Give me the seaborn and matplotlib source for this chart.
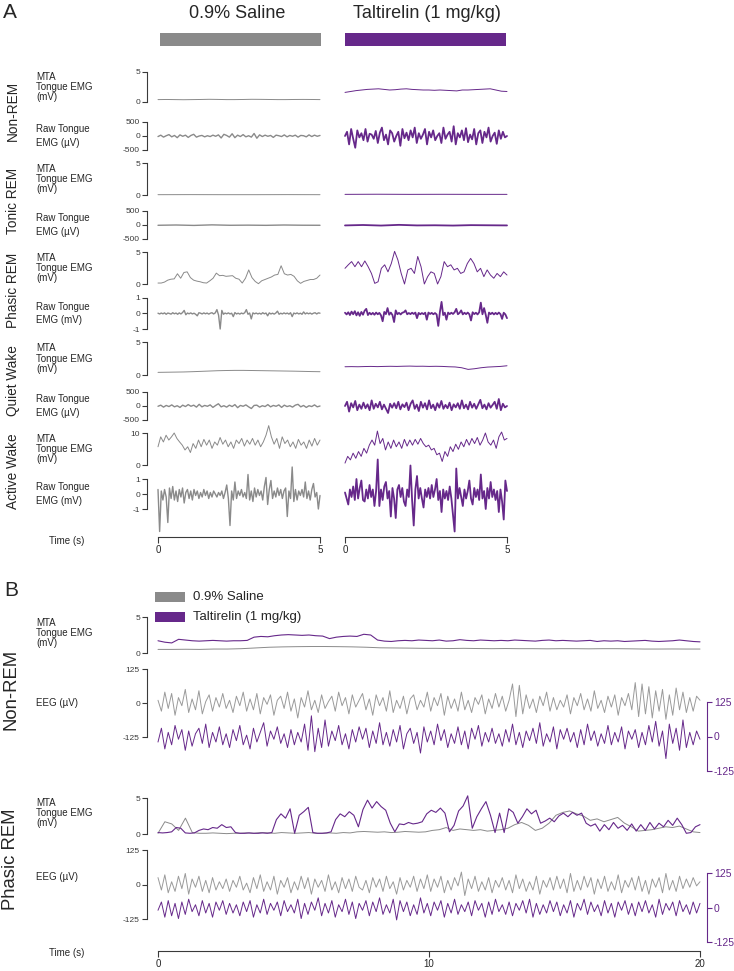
import numpy as np
import matplotlib
matplotlib.use("Agg")
import matplotlib.pyplot as plt
from matplotlib.patches import Rectangle
import seaborn as sns

# colours
GREY = "#8a8a8a"
GREY_EEG = "#9a9a9a"
PURPLE = "#66288a"
AXC = "#3a3a3a"

conditions = ["0.9% Saline", "Taltirelin (1 mg/kg)"]
states_a = ["Non-REM", "Tonic REM", "Phasic REM", "Quiet Wake", "Active Wake"]
states_b = ["Non-REM", "Phasic REM"]
mta_label = "MTA\nTongue EMG\n(mV)"
raw_labels = ["Raw Tongue\nEMG (µV)", "Raw Tongue\nEMG (µV)", "Raw Tongue\nEMG (mV)",
              "Raw Tongue\nEMG (µV)", "Raw Tongue\nEMG (mV)"]
mta_ticks = [[0, 5], [0, 5], [0, 5], [0, 5], [0, 10]]
raw_ticks = [[-500, 0, 500], [-500, 0, 500], [-1, 0, 1], [-500, 0, 500], [-1, 0, 1]]
time_ticks_a = [0, 5]
time_ticks_b = [0, 10, 20]
eeg_ticks = [-125, 0, 125]
mta_b_ticks = [0, 5]

# ---------------- panel A : 5 s excerpts ----------------
# Non-REM
sal_nrem_mta = [0.4, 0.42, 0.4, 0.38, 0.4, 0.42, 0.45, 0.43, 0.4, 0.4,
                0.42, 0.45, 0.44, 0.42, 0.4, 0.4, 0.42, 0.43, 0.42, 0.4]
tal_nrem_mta = [1.6, 1.75, 1.9, 2.0, 2.1, 2.15, 2.2, 2.1, 2.0, 2.05, 2.15, 2.2, 2.1, 2.05, 2.0,
                2.0, 1.95, 2.0, 1.95, 1.9, 1.85, 2.0, 2.0, 2.05, 2.1, 2.15, 2.2, 2.0, 1.8, 1.75]
sal_nrem_raw = [-20, 30, -40, 10, 50, -30, 20, -60, 40, -10, 30, -50, 20, 60, -40, 0, 20, -30, 10, -20,
                30, -10, 40, -70, 60, 20, -40, 80, -60, 30, -20, 50, -30, 10, -40, 90, -80, 40, -20, 30,
                -10, 20, -50, 30, 10, -20, 40, -30, 20, -10, 30, -40, 20, 10, -30, 40, -20, 30, -10, 20]
tal_nrem_raw = [0, 150, -300, 250, -100, -420, 200, -50, 100, -150, 250, -200, 80, 50, -100, 180, -250, 120, 300, -150,
                50, -300, 200, 100, -200, 0, 150, -350, 250, -80, 120, -150, 200, -50, 300, -250, 100, -100, 50, 250,
                -300, 150, -50, 200, -150, 0, 100, -250, 300, -100, 50, 150, -200, 350, -300, 100, -50, 200, -150, 280,
                -220, 50, -120, 250, -300, 100, 200, -250, 150, -50, 300, -200, 0, 120, -280, 200, -100, 150, -50, 0]
# Tonic REM
sal_tonic_mta = [0.05, 0.06, 0.05, 0.05, 0.06, 0.05]
tal_tonic_mta = [0.1, 0.12, 0.1, 0.11, 0.1, 0.1]
sal_tonic_raw = [-10, 0, -15, 5, -10, -5, -12, 0, -8, -10]
tal_tonic_raw = [-15, 0, -20, 5, -15, -10, -20, -5, -10, -15]
# Phasic REM
sal_phasic_mta = [0.15, 0.15, 0.3, 0.6, 0.75, 0.8, 1.6, 0.9, 1.8, 1.9, 1.0, 0.6, 0.45, 0.35, 0.2, 0.15, 0.5,
                  0.9, 1.7, 1.3, 1.35, 1.2, 1.25, 1.3, 0.9, 0.75, 0.15, 0.9, 2.2, 1.0, 0.4, 0.05, 0.5, 0.7,
                  0.9, 1.1, 1.4, 1.5, 2.85, 1.6, 1.4, 1.5, 1.2, 0.5, 0.1, 0.4, 0.55, 0.7, 0.7, 0.9, 1.4]
tal_phasic_mta = [2.45, 3.0, 3.5, 2.7, 3.5, 2.7, 3.6, 2.7, 1.65, 0.1, 0.35, 2.45, 3.0, 1.9, 3.2, 5.1, 3.75,
                  1.65, 0.0, 2.2, 2.45, 1.65, 4.3, 2.7, 0.0, 1.15, 1.9, 1.65, 0.0, 1.15, 3.5, 2.7, 3.0, 2.2,
                  2.45, 1.65, 1.9, 3.2, 4.0, 3.2, 1.9, 2.45, 1.15, 2.2, 1.4, 0.9, 1.65, 1.15, 1.9, 1.4]
sal_phasic_raw = [0.02, -0.03, 0.03, -0.02, 0.04, -0.05, 0.03, 0.0, -0.04, 0.05,
                  -0.02, 0.03, -0.05, 0.04, -0.03, 0.06, 0.2, -0.08, 0.03, -0.02,
                  0.04, -0.03, 0.02, -0.05, -0.15, 0.05, 0.02, -0.03, 0.04, -0.02,
                  0.03, -0.04, 0.02, 0.05, -0.03, 0.04, 0.25, -0.1, -1.0, 0.2,
                  -0.05, 0.03, -0.02, 0.04, -0.03, 0.02, -0.2, 0.06, -0.03, 0.02,
                  -0.04, 0.03, -0.02, 0.05, 0.25, -0.05, 0.03, -0.35, 0.04, -0.02,
                  0.03, -0.03, 0.02, -0.04, 0.05, -0.02, 0.03, -0.15, 0.04, -0.03,
                  0.02, -0.04, 0.03, 0.15, -0.05, 0.02, -0.03, 0.04, -0.02, 0.03,
                  -0.04, 0.05, -0.2, 0.03, -0.02, 0.04, -0.03, 0.02, -0.05, 0.1,
                  -0.03, 0.04, -0.02, 0.03, -0.04, 0.02, 0.05, -0.03, 0.04, 0.02]
tal_phasic_raw = [0.05, -0.06, 0.08, -0.1, 0.12, -0.05, 0.15, -0.12, 0.08, -0.15,
                  0.1, -0.08, 0.18, 0.3, -0.1, 0.05, -0.06, 0.04, -0.08, 0.06,
                  -0.05, 0.04, -0.12, -0.5, 0.1, -0.04, 0.35, -0.08, 0.06, -0.1,
                  -0.55, 0.2, -0.05, 0.04, -0.06, 0.05, 0.08, 0.2, -0.05, 0.03,
                  -0.04, 0.05, -0.03, 0.06, -0.3, 0.04, -0.05, 0.03, -0.04, 0.05,
                  -0.4, 0.06, -0.03, 0.04, -0.05, 0.03, -0.06, -0.8, 0.1, 0.75,
                  -0.1, 0.05, -0.4, 0.06, -0.04, 0.05, -0.03, 0.08, 0.3, -0.05,
                  0.04, 0.2, -0.06, 0.05, -0.04, 0.06, -0.05, -0.45, 0.08, -0.04,
                  0.05, -0.06, 0.08, 0.7, -0.05, 0.35, -0.08, -0.6, 0.06, -0.04,
                  0.05, -0.06, 0.04, -0.05, 0.06, -0.04, -0.35, 0.05, -0.06, -0.3]
# Quiet Wake
sal_quiet_mta = [0.4, 0.42, 0.44, 0.46, 0.5, 0.55, 0.6, 0.65, 0.68, 0.7,
                 0.7, 0.68, 0.66, 0.64, 0.62, 0.6, 0.58, 0.55, 0.52, 0.5]
tal_quiet_mta = [1.25, 1.27, 1.25, 1.28, 1.3, 1.27, 1.3, 1.32, 1.3, 1.33, 1.35, 1.32, 1.33,
                 1.3, 1.32, 1.3, 1.25, 1.22, 1.1, 0.85, 0.95, 1.1, 1.2, 1.25, 1.3, 1.4]
sal_quiet_raw = [-10, 30, -40, 20, -20, 40, -30, 10, -50, 30, -20, 50, -10, 30, -40, 60, -30, 20, -10, 40,
                 -50, 20, 80, -30, 10, -40, 30, -20, 50, -60, 20, -10, 40, -30, -90, 20, 30, -40, 10, -20,
                 50, -30, 20, -10, 40, -50, 30, -20, 10, -40, 30, 60, -30, 20, -50, 10, -20, 40, -30, 0]
tal_quiet_raw = [0, 150, -200, 100, -50, 180, -150, 50, -100, 120, -80, 60, -150, 200, -100, 80, -50, 150, -120, 50,
                 -100, -250, 80, -60, 100, -80, 150, -120, 60, -40, 120, -150, 80, 200, -100, 50, -180, 150, -60, 100,
                 -120, 200, -80, 50, -150, 100, -60, 180, -100, 40, -80, 120, -150, 60, -50, 100, -100, 200, -80, 50,
                 -120, 150, -60, 80, -100, 60, 220, -80, 50, -120, 100, -60, 40, 150, -100, 250, -150, 80, -50, 0]
# Active Wake
sal_active_mta = [5.7, 8.8, 7.2, 9.3, 7.8, 8.8, 10.0, 8.3, 7.2, 6.2, 4.7, 5.7, 3.9, 6.7, 5.2, 7.8, 5.7, 8.0,
                  6.2, 7.8, 5.2, 7.2, 6.2, 8.6, 6.5, 7.8, 5.7, 7.2, 5.2, 7.8, 6.7, 8.3, 5.9, 7.8, 6.5, 8.3,
                  6.2, 7.8, 5.7, 7.2, 9.3, 12.3, 8.8, 6.5, 8.3, 5.2, 8.8, 6.7, 7.8, 5.7, 7.2, 5.2, 8.0, 6.2,
                  7.2, 5.2, 7.8, 5.9, 8.3, 6.2, 7.8]
tal_active_mta = [0.6, 2.7, 1.6, 3.7, 2.1, 4.2, 2.7, 5.2, 3.7, 6.2, 7.8, 6.2, 10.6, 6.7, 8.3, 4.7, 7.2, 5.2,
                  7.8, 5.7, 7.2, 5.2, 8.0, 5.9, 7.8, 6.2, 8.0, 6.5, 8.3, 6.7, 5.7, 6.2, 4.7, 5.2, 3.2, 3.7,
                  1.1, 4.2, 2.7, 5.7, 4.2, 6.5, 4.9, 7.2, 5.7, 8.0, 6.2, 8.3, 6.7, 8.6, 6.2, 7.8, 10.0, 7.2,
                  6.2, 7.8, 5.2, 8.8, 10.3, 7.8, 8.3]
sal_active_raw = [0.3, -2.5, 0.2, -0.4, 0.3, -0.2, -1.9, 0.4, -0.3, 0.5,
                  -0.4, 0.2, -0.5, 0.3, -0.2, 0.4, -0.6, 0.1, 0.3, -0.3,
                  0.2, -0.4, 0.3, -0.1, 0.2, -0.3, 0.1, -0.2, 0.3, -0.1,
                  0.2, -0.3, 0.1, -0.2, 0.2, 0.0, -0.2, 0.1, -0.1, 0.2,
                  -0.3, 0.1, 0.6, -0.3, -2.1, 0.2, -0.4, 0.8, -0.3, 0.2,
                  -0.1, 0.3, -0.2, 0.1, -0.3, 1.3, -0.4, 0.2, -0.5, 0.4,
                  -0.2, 0.3, -0.1, 0.2, -0.4, 0.5, 1.1, -0.7, 0.3, 0.9,
                  -0.3, 0.2, -0.2, 0.4, -0.1, 0.3, -0.3, 0.2, 0.4, -1.5,
                  0.2, -0.3, 1.8, -0.5, 0.3, -0.4, 0.2, -0.1, 0.3, -0.2,
                  0.8, -0.3, 0.2, -0.4, 0.3, 0.7, -0.2, 0.1, -1.0, -0.1]
tal_active_raw = [0.1, -0.3, -0.7, 0.3, -0.2, 0.5, -0.4, 1.0, -0.3, 0.4,
                  0.9, -0.4, -0.5, 0.3, -0.3, 0.6, -0.2, 0.3, -0.8, 0.2,
                  2.3, -0.8, 0.3, -0.4, 0.5, 0.8, -0.3, 0.2, -1.5, 0.4,
                  -0.3, -1.6, 0.3, 0.6, -0.2, 0.4, -0.5, -0.8, 0.3, -0.2,
                  1.9, -0.4, -2.1, 0.3, 1.2, -0.3, 0.4, -0.3, -0.9, 0.3,
                  -0.2, 0.4, -0.3, 0.6, -0.2, 0.3, 1.0, -0.4, 0.2, -1.2,
                  0.3, -0.3, 0.2, -0.4, 0.5, -0.3, -1.4, -2.5, 1.7, -0.3,
                  0.4, -0.2, -0.8, 0.3, -0.3, 0.2, 0.9, -0.3, -0.7, 0.4,
                  -0.2, 0.3, -0.4, 1.3, -0.3, 0.2, -1.0, 0.4, -0.3, 0.8,
                  -0.2, 0.3, -0.4, 0.2, -1.2, 0.3, -0.5, -1.7, 0.9, 0.2]

mta_a = [[sal_nrem_mta, sal_tonic_mta, sal_phasic_mta, sal_quiet_mta, sal_active_mta],
         [tal_nrem_mta, tal_tonic_mta, tal_phasic_mta, tal_quiet_mta, tal_active_mta]]
raw_a = [[sal_nrem_raw, sal_tonic_raw, sal_phasic_raw, sal_quiet_raw, sal_active_raw],
         [tal_nrem_raw, tal_tonic_raw, tal_phasic_raw, tal_quiet_raw, tal_active_raw]]

# ---------------- panel B : 20 s excerpts ----------------
sal_nrem_mta_b = [0.5, 0.5, 0.52, 0.5, 0.55, 0.55, 0.6, 0.7, 0.8, 0.85, 0.88, 0.9, 0.9, 0.88, 0.85, 0.8,
                  0.72, 0.7, 0.68, 0.65, 0.65, 0.62, 0.65, 0.62, 0.6, 0.62, 0.6, 0.6, 0.58, 0.6, 0.6, 0.58,
                  0.6, 0.6, 0.58, 0.55, 0.55, 0.56, 0.55, 0.55]
tal_nrem_mta_b = [1.7, 1.5, 1.4, 1.9, 1.8, 1.7, 1.65, 1.7, 1.75, 1.7,
                  1.65, 1.7, 1.7, 1.75, 2.2, 2.3, 2.25, 2.4, 2.5, 2.55,
                  2.5, 2.45, 2.5, 2.4, 2.35, 2.0, 2.2, 2.3, 2.35, 2.3,
                  2.6, 2.5, 1.8, 1.65, 1.6, 1.7, 1.75, 1.7, 1.8, 1.75,
                  1.7, 1.8, 1.65, 1.7, 1.85, 1.75, 1.7, 1.8, 1.75, 1.7,
                  1.75, 1.7, 1.8, 1.75, 1.7, 1.65, 1.75, 1.8, 1.7, 1.75,
                  1.7, 1.65, 1.7, 1.75, 1.6, 1.7, 1.65, 1.7, 1.6, 1.65,
                  1.7, 1.75, 1.65, 1.6, 1.65, 1.7, 1.8, 1.7, 1.6, 1.55]
sal_nrem_eeg = [10, -30, 40, -20, 35, -45, 20, -10, 50, -35, 15, -25, 45, -40, 5, 30, -30, 20, -15, 35,
                -20, 10, -35, 25, -10, 40, -30, 15, -25, 35, -40, 20, -5, 30, -45, 10, 25, -20, 40, -30,
                15, -55, 20, -15, 45, -25, 10, -35, 30, -20, 5, 25, -30, 40, -10, 20, -40, 30, -15, 10,
                35, -25, 15, -45, 30, -10, 20, -30, 45, -35, 10, -20, 25, -40, 15, 30, -25, 10, -15, 40,
                -30, 20, -10, 35, -45, 25, -20, 15, -30, 40, -25, 10, -35, 20, -5, 30, -40, 15, -20, 35,
                -15, 25, -30, 10, 70, -50, 65, -40, 30, -20, 15, -35, 25, -10, 40, -30, 20, -25, 10, -15,
                30, -40, 20, -10, 35, -25, 15, -30, 45, -20, 10, -35, 25, -15, 30, -45, 20, -10, 35, -25,
                75, -50, 70, -40, 60, -55, 45, -30, 50, -60, 30, -45, 55, -25, 40, -35, 20, -30, 25, 10]
tal_nrem_eeg = [-20, 30, -45, 15, -30, 40, -10, 25, -50, 20, -35, 10, 30, -25, 45, -40, 15, -20, 35, -30,
                10, -40, 25, -15, 40, -30, 5, -45, 30, -20, 15, 50, -35, 20, -10, 35, -25, 10, -40, 25,
                -30, 15, -20, 45, -50, 75, -55, 30, -40, 60, -35, 20, -15, 40, -30, 10, -45, 25, -20, 35,
                -10, 30, -40, 20, -25, 50, -30, 15, -35, 25, -20, 40, -45, 10, 30, -25, 15, -60, 35, -20,
                20, -30, 45, -15, 25, -40, 10, -25, 35, -30, 20, -45, 30, -10, 40, -35, 15, -20, 30, -25,
                10, -35, 25, -20, 45, -30, 15, -40, 20, -15, 30, -25, 50, -35, 10, -20, 35, -45, 25, -10,
                30, -20, 15, -40, 25, -30, 45, -15, 20, -35, 10, -25, 40, -30, 15, -20, 35, -45, 20, -10,
                25, -40, 15, -30, 40, -20, 55, -35, 20, -80, 45, -25, 30, -50, 60, -40, 15, -30, 20, -10]
sal_phasic_mta_b = [0.1, 1.7, 1.4, 0.5, 2.2, 0.2, 0.1, 0.1, 0.15, 0.1, 0.05, 0.1, 0.1, 0.15, 0.1, 0.2,
                    0.15, 0.1, 0.2, 0.15, 0.1, 0.15, 0.2, 0.1, 0.1, 0.15, 0.1, 0.2, 0.15, 0.3, 0.35, 0.3,
                    0.25, 0.3, 0.2, 0.25, 0.35, 0.3, 0.25, 0.3, 0.5, 0.6, 0.9, 0.5, 0.7, 0.6, 0.5, 0.6,
                    0.4, 0.5, 0.6, 0.8, 1.3, 1.6, 1.2, 0.5, 0.8, 1.5, 2.6, 3.0, 3.2, 2.8, 2.5, 1.9,
                    2.1, 1.7, 2.0, 2.3, 1.5, 1.0, 0.4, 0.5, 0.6, 0.8, 1.0, 0.9, 1.1, 0.7, 0.3, 0.2]
tal_phasic_mta_b = [0.2, 0.15, 0.2, 0.3, 0.9, 0.8, 0.15, 0.1, 0.15, 0.5, 0.7, 0.6, 0.9, 0.8, 1.3, 0.9,
                    1.0, 0.2, 0.1, 0.1, 0.15, 0.1, 0.1, 0.15, 0.1, 0.2, 2.0, 2.8, 2.2, 3.5, 0.1, 2.6,
                    3.1, 3.7, 0.2, 0.1, 0.1, 0.15, 0.3, 2.0, 2.8, 2.4, 3.1, 2.6, 1.0, 3.4, 4.7, 3.6,
                    4.5, 3.8, 3.3, 1.5, 0.3, 1.4, 1.3, 1.6, 1.4, 1.5, 1.7, 2.8, 3.3, 3.0, 3.6, 2.9,
                    0.3, 1.2, 3.2, 3.9, 5.3, 0.8, 2.4, 3.5, 4.5, 2.6, 0.2, 2.9, 0.2, 3.5, 3.0, 1.5,
                    2.4, 3.5, 2.8, 3.3, 1.5, 1.8, 2.2, 1.7, 2.5, 2.9, 2.4, 3.0, 2.6, 2.9, 1.5, 1.1,
                    1.4, 0.4, 1.3, 0.6, 1.6, 0.8, 1.2, 0.5, 1.4, 0.4, 1.3, 0.5, 1.6, 0.7, 1.5, 1.0,
                    1.9, 1.2, 2.2, 1.3, 0.1, 0.2, 1.0, 1.3]
sal_phasic_eeg = [25, -20, 35, -30, 10, -25, 30, -15, 40, -35, 20, -10, 30, -25, 15, -30, 25, -20, 10, -15,
                  20, -25, 15, -10, 30, -20, 5, -30, 25, -15, 35, -25, 10, -20, 30, -35, 15, -10, 25, -30,
                  10, -20, 30, -15, 25, -35, 20, -10, 15, -25, 35, -20, 10, -30, 25, -15, 20, -25, 30, -10,
                  -20, 15, -30, 25, -10, 20, -25, 30, -15, 10, -35, 25, -20, 15, -10, 30, -25, 20, -15, 35,
                  -25, 20, -10, 30, -30, 15, -20, 25, -5, 45, -40, 20, -15, 30, -25, 10, -20, 25, -30, 15,
                  -10, 25, -20, 15, -30, 35, -15, 20, -25, 10, -20, 30, -35, 15, -10, 25, -20, 30, -15, 20,
                  -30, 40, -25, 15, -20, 30, -10, 25, -35, 20, -15, 30, -25, 10, -20, 35, -30, 15, -10, 25,
                  -20, 30, -25, 15, -35, 20, -10, 25, -30, 40, -20, 15, -25, 30, -15, 20, -10, 25, -5, 10]
tal_phasic_eeg = [-10, 20, -35, 25, -30, 15, -40, 20, -25, 30, -15, 10, -30, 25, -20, 15, -35, 20, -10, 25,
                  -25, 15, -20, 10, -30, 20, -15, 25, -35, 10, -20, 30, -25, 15, -10, 20, -30, 25, -15, 10,
                  -20, 30, -40, 15, -25, 20, -10, 35, -30, 15, -20, 25, -35, 10, -15, 30, -25, 20, -40, 15,
                  -10, 25, -30, 20, -15, 35, -25, 10, -20, 30, -45, 25, -15, 20, -30, 10, -25, 35, -20, 15,
                  -30, 20, -10, 25, -35, 15, -20, 30, -25, 10, -15, 20, -30, 25, -10, 15, -35, 20, -25, 30,
                  -15, 10, -25, 20, -30, 15, -10, 25, -20, 30, -35, 15, -25, 10, -20, 25, -15, 20, -30, 10,
                  -20, 25, -35, 15, -10, 30, -25, 20, -15, 10, -30, 25, -20, 15, -35, 20, -10, 25, -25, 15,
                  -30, 20, -15, 25, -20, 10, -35, 30, -25, 15, -10, 20, -30, 25, -15, 10, -25, 20, -20, 15]

# ---------------- figure ----------------
sns.set_theme(style="white")
plt.rcParams["font.family"] = ["Liberation Sans", "DejaVu Sans"]
plt.rcParams["axes.unicode_minus"] = False

W, H = 734, 971
fig = plt.figure(figsize=(W / 100, H / 100), dpi=100)

LAB = 7  # size of the row labels


def lin(v1, p1, v2, p2, p):
    return v1 + (p - p1) * (v2 - v1) / (p2 - p1)


def add_ax(x0, x1, top, bot):
    ax = fig.add_axes([x0 / W, 1 - bot / H, (x1 - x0) / W, (bot - top) / H])
    for s in ax.spines.values():
        s.set_visible(False)
    ax.set_xticks([])
    ax.set_yticks([])
    ax.patch.set_visible(False)
    return ax


def trace_ax(x0, x1, xmax, ref, pad=8):
    (v1, p1), (v2, p2) = ref
    top, bot = min(p1, p2) - pad, max(p1, p2) + pad
    ax = add_ax(x0, x1, top, bot)
    ax.set_xlim(0, xmax)
    ax.set_ylim(lin(v1, p1, v2, p2, bot), lin(v1, p1, v2, p2, top))
    return ax


def yaxis(ax, ticks, side="left", color=AXC, labelcolor=AXC, out=8, size=6):
    sp = ax.spines[side]
    sp.set_visible(True)
    sp.set_bounds(ticks[0], ticks[-1])
    sp.set_position(("outward", out))
    sp.set_color(color)
    sp.set_linewidth(0.8)
    ax.set_yticks(ticks)
    ax.tick_params(axis="y", length=3.5, width=0.8, pad=1.5, labelsize=size, color=color,
                   labelcolor=labelcolor, left=side == "left", right=side == "right",
                   labelleft=side == "left", labelright=side == "right")


def draw(ax, y, xmax, color, lw):
    t = np.linspace(0, xmax, len(y))
    sns.lineplot(x=t, y=y, ax=ax, color=color, linewidth=lw, estimator=None, sort=False)
    ax.lines[-1].set_clip_on(False)
    ax.set_xlabel("")
    ax.set_ylabel("")


def time_axis(x0, x1, xmax, ticks, ypx):
    ax = add_ax(x0, x1, ypx - 6, ypx)
    ax.set_xlim(0, xmax)
    ax.spines["bottom"].set_visible(True)
    ax.spines["bottom"].set_color(AXC)
    ax.spines["bottom"].set_linewidth(0.8)
    ax.set_xticks(ticks)
    ax.tick_params(axis="x", bottom=True, length=4, width=0.8, pad=2, labelsize=7, color=AXC)


# ---- panel A layout
cols_px = [(158, 320), (345, 507)]
bars_px = [(160, 321), (345, 506)]
title_x = [237, 427]
mta_px = [(102, 72), (195, 163), (284, 252), (375, 342), (465, 433)]
raw_px = [(150, 122), (239, 211), (329, 298), (420, 392), (509, 479)]
colors = [GREY, PURPLE]

fig.text(10 / W, 1 - 12 / H, "A", fontsize=15, ha="center", va="center")
for (b0, b1), tx, cond, c in zip(bars_px, title_x, conditions, colors):
    fig.text(tx / W, 1 - 13 / H, cond, fontsize=13, ha="center", va="center")
    fig.add_artist(Rectangle((b0 / W, 1 - 46 / H), (b1 - b0) / W, 13 / H,
                             transform=fig.transFigure, color=c, lw=0))

for i, state in enumerate(states_a):
    lo, hi = mta_px[i]
    rlo, rhi = raw_px[i]
    fig.text(13 / W, 1 - (hi + rlo) / 2 / H, state, rotation=90, fontsize=9.8,
             ha="center", va="center")
    fig.text(36 / W, 1 - (lo + hi) / 2 / H, mta_label, fontsize=LAB, ha="left", va="center",
             linespacing=1.05)
    fig.text(36 / W, 1 - (rlo + rhi) / 2 / H, raw_labels[i], fontsize=LAB, ha="left", va="center",
             linespacing=1.4)
    for j, (x0, x1) in enumerate(cols_px):
        ax = trace_ax(x0, x1, 5, ((mta_ticks[i][0], lo), (mta_ticks[i][-1], hi)))
        draw(ax, mta_a[j][i], 5, colors[j], 0.7)
        if j == 0:
            yaxis(ax, mta_ticks[i])
        ax = trace_ax(x0, x1, 5, ((raw_ticks[i][0], rlo), (raw_ticks[i][-1], rhi)))
        draw(ax, raw_a[j][i], 5, colors[j], 1.0 if j == 0 else 1.3)
        if j == 0:
            yaxis(ax, raw_ticks[i])

for x0, x1 in cols_px:
    time_axis(x0, x1, 5, time_ticks_a, 537)
fig.text(67 / W, 1 - 541 / H, "Time (s)", fontsize=LAB, ha="center", va="center")

# ---- panel B
fig.text(11 / W, 1 - 591 / H, "B", fontsize=15, ha="center", va="center")
for k, (cond, c) in enumerate(zip(conditions, colors)):
    yc = 597 + 20 * k
    fig.add_artist(Rectangle((155 / W, 1 - (yc + 5) / H), 30 / W, 10 / H,
                             transform=fig.transFigure, color=c, lw=0))
    fig.text(193 / W, 1 - yc / H, cond, fontsize=9.5, ha="left", va="center")

bx0, bx1 = 158, 700
blocks = [
    (states_b[0], 689, (653, 617), 633, (669, 737), (702, 771), 703,
     sal_nrem_mta_b, tal_nrem_mta_b, sal_nrem_eeg, tal_nrem_eeg),
    (states_b[1], 859, (834, 798), 813, (850, 919), (873, 942), 877,
     sal_phasic_mta_b, tal_phasic_mta_b, sal_phasic_eeg, tal_phasic_eeg),
]
for (state, sy, (lo, hi), my, (l125, lm125), (r125, rm125), ey,
     s_mta, t_mta, s_eeg, t_eeg) in blocks:
    fig.text(11 / W, 1 - sy / H, state, rotation=90, fontsize=13.3, ha="center", va="center")
    fig.text(36 / W, 1 - my / H, mta_label, fontsize=LAB, ha="left", va="center", linespacing=1.05)
    fig.text(36 / W, 1 - ey / H, "EEG (µV)", fontsize=LAB, ha="left", va="center")

    ax = trace_ax(bx0, bx1, 20, ((0, lo), (5, hi)))
    draw(ax, s_mta, 20, GREY, 0.7)
    draw(ax, t_mta, 20, PURPLE, 0.8)
    yaxis(ax, mta_b_ticks)

    top, bot = l125 - 8, rm125 + 8
    ax = add_ax(bx0, bx1, top, bot)
    ax.set_xlim(0, 20)
    ax.set_ylim(lin(125, l125, -125, lm125, bot), lin(125, l125, -125, lm125, top))
    draw(ax, s_eeg, 20, GREY_EEG, 0.7)
    yaxis(ax, eeg_ticks)
    ax2 = ax.twinx()
    for s in ax2.spines.values():
        s.set_visible(False)
    ax2.patch.set_visible(False)
    ax2.set_ylim(lin(125, r125, -125, rm125, bot), lin(125, r125, -125, rm125, top))
    draw(ax2, t_eeg, 20, PURPLE, 0.7)
    yaxis(ax2, eeg_ticks, side="right", color=PURPLE, labelcolor=PURPLE, out=5, size=7.5)

time_axis(bx0, bx1, 20, time_ticks_b, 951)
fig.text(67 / W, 1 - 953 / H, "Time (s)", fontsize=LAB, ha="center", va="center")

fig.savefig("out.png", dpi=100, facecolor="white")
